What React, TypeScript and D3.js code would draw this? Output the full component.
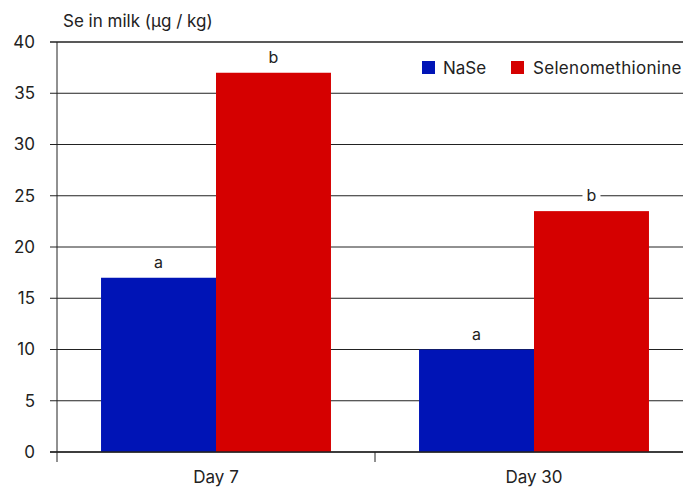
import React from "react";
import * as d3 from "d3";

const width = 683;
const height = 488;
const margin = { left: 57, top: 42, bottom: 36 };
const font = "Inter, 'Noto Sans', sans-serif";

const days = ["Day 7", "Day 30"];
const series = ["NaSe", "Selenomethionine"];
const colors = ["#0014b6", "#d50000"];
const nase = [17, 10];
const selMet = [37, 23.5];
const naseLetters = ["a", "a"];
const selLetters = ["b", "b"];
const yTicks = [0, 5, 10, 15, 20, 25, 30, 35, 40];

const bandWidth = 318; // each day group, second one runs off the right edge
const x = d3
  .scaleBand<string>()
  .domain(days)
  .range([margin.left, margin.left + bandWidth * days.length]);
const inner = d3
  .scaleBand<string>()
  .domain(series)
  .range([0, bandWidth])
  .paddingOuter(0.383);
const y = d3
  .scaleLinear()
  .domain([0, 40])
  .range([height - margin.bottom, margin.top]);

const App = () => {
  const values = [nase, selMet];
  const letters = [naseLetters, selLetters];
  const y0 = y(0);
  return (
    <svg
      width={width}
      height={height}
      style={{ position: "absolute", left: 0, top: 0 }}
    >
      <rect width={width} height={height} fill="#fff" />
      {yTicks.map((t) => (
        <g key={t}>
          <line
            x1={margin.left - 7}
            x2={width}
            y1={y(t)}
            y2={y(t)}
            stroke="#222"
            strokeWidth={t === 40 ? 1.6 : 1}
          />
          <text
            x={35}
            y={y(t)}
            dy="0.35em"
            textAnchor="end"
            fontFamily={font}
            fontSize={17}
            fill="#222"
          >
            {t}
          </text>
        </g>
      ))}
      {days.map((d, i) =>
        series.map((s, j) => {
          const bx = x(d)! + inner(s)!;
          const by = y(values[j][i]);
          return (
            <rect
              key={d + s}
              x={bx}
              y={by}
              width={inner.bandwidth()}
              height={y0 - by}
              fill={colors[j]}
            />
          );
        })
      )}
      {days.map((d, i) =>
        series.map((s, j) => {
          const cx = x(d)! + inner(s)! + inner.bandwidth() / 2;
          const ty = y(values[j][i]) - 10;
          return (
            <g key={"l" + d + s}>
              <rect x={cx - 9} y={ty - 15} width={18} height={20} fill="#fff" />
              <text
                x={cx}
                y={ty}
                textAnchor="middle"
                fontFamily={font}
                fontSize={16}
                fill="#222"
              >
                {letters[j][i]}
              </text>
            </g>
          );
        })
      )}
      <line x1={margin.left} x2={margin.left} y1={margin.top} y2={y0 + 10} stroke="#222" />
      <line x1={margin.left - 7} x2={width} y1={y0} y2={y0} stroke="#222" strokeWidth={1.4} />
      {days.map((d) => (
        <g key={"x" + d}>
          <line x1={x(d)! + bandWidth} x2={x(d)! + bandWidth} y1={y0} y2={y0 + 10} stroke="#222" />
          <text
            x={x(d)! + bandWidth / 2}
            y={y0 + 31}
            textAnchor="middle"
            fontFamily={font}
            fontSize={17}
            fill="#222"
          >
            {d}
          </text>
        </g>
      ))}
      <text x={63} y={27} fontFamily={font} fontSize={17} fill="#222">
        Se in milk (µg / kg)
      </text>
      <g fontFamily={font} fontSize={17} fill="#222">
        <rect x={422} y={61} width={13} height={13} fill={colors[0]} />
        <text x={443} y={74}>{series[0]}</text>
        <rect x={511} y={61} width={13} height={13} fill={colors[1]} />
        <text x={533} y={74} letterSpacing={0.3}>{series[1]}</text>
      </g>
    </svg>
  );
};

export default App;
